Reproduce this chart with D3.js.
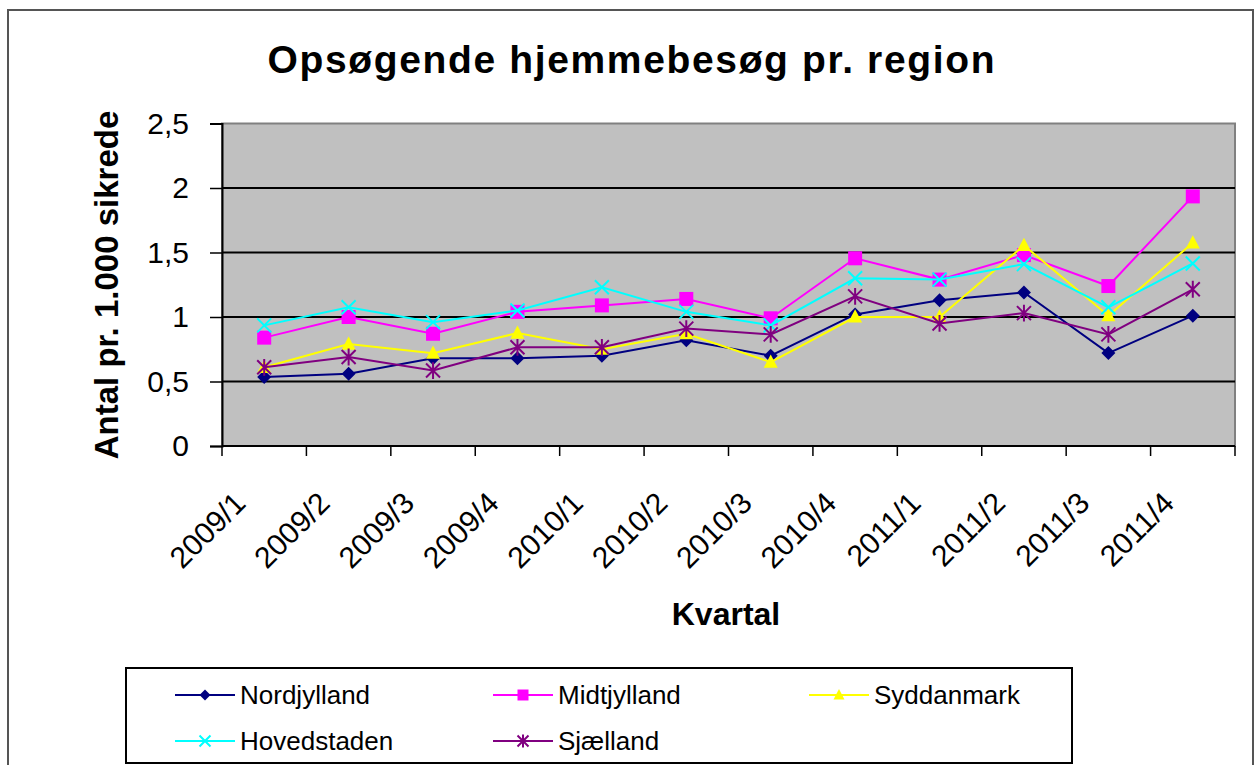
<!DOCTYPE html>
<html>
<head>
<meta charset="utf-8">
<script src="https://cdn.jsdelivr.net/npm/d3@7"></script>
<style>
  body { margin: 0; background: #fff; }
  svg { display: block; font-family: "Liberation Sans", Arial, sans-serif; }
</style>
</head>
<body>
<div id="chart"></div>
<script>
const quarters = ['2009/1', '2009/2', '2009/3', '2009/4', '2010/1', '2010/2', '2010/3', '2010/4', '2011/1', '2011/2', '2011/3', '2011/4'];
const yTicks = [0, 0.5, 1, 1.5, 2, 2.5];

const nordjylland = [0.535, 0.56, 0.68, 0.68, 0.70, 0.82, 0.70, 1.02, 1.13, 1.19, 0.72, 1.01];
const midtjylland = [0.84, 1.0, 0.87, 1.04, 1.09, 1.14, 0.99, 1.455, 1.29, 1.48, 1.24, 1.935];
const syddanmark = [0.61, 0.79, 0.72, 0.875, 0.75, 0.87, 0.65, 1.0, 1.0, 1.555, 1.01, 1.575];
const hovedstaden = [0.935, 1.075, 0.96, 1.05, 1.23, 1.04, 0.935, 1.30, 1.29, 1.41, 1.075, 1.415];
const sjaelland = [0.61, 0.69, 0.585, 0.765, 0.765, 0.91, 0.865, 1.16, 0.95, 1.03, 0.865, 1.215];

const series = [
  { name: 'Nordjylland', values: nordjylland, color: '#000080', marker: 'diamond' },
  { name: 'Midtjylland', values: midtjylland, color: '#ff00ff', marker: 'square' },
  { name: 'Syddanmark', values: syddanmark, color: '#ffff00', marker: 'triangle' },
  { name: 'Hovedstaden', values: hovedstaden, color: '#00ffff', marker: 'cross' },
  { name: 'Sjælland', values: sjaelland, color: '#800080', marker: 'star' }
];

const W = 1254, H = 765;
const plot = { left: 222, top: 123.5, right: 1235, bottom: 446 };

const svg = d3.select('#chart').append('svg')
  .attr('width', W)
  .attr('height', H);

// chart frame
svg.append('rect')
  .attr('x', 8).attr('y', 10)
  .attr('width', 1245).attr('height', 780)
  .attr('fill', '#fff')
  .attr('stroke', '#555')
  .attr('stroke-width', 2);

const x = d3.scaleBand().domain(quarters).range([plot.left, plot.right]);
const y = d3.scaleLinear().domain([0, 2.5]).range([plot.bottom, plot.top]);

// plot background
svg.append('rect')
  .attr('x', plot.left).attr('y', plot.top)
  .attr('width', plot.right - plot.left).attr('height', plot.bottom - plot.top)
  .attr('fill', '#c0c0c0')
  .attr('stroke', '#808080')
  .attr('stroke-width', 2);

// gridlines
svg.append('g')
  .selectAll('line')
  .data(yTicks.filter(d => d > 0 && d < 2.5))
  .enter()
  .append('line')
  .attr('x1', plot.left).attr('x2', plot.right)
  .attr('y1', d => y(d)).attr('y2', d => y(d))
  .attr('stroke', '#000')
  .attr('stroke-width', 2);

const locale = d3.formatLocale({ decimal: ',', thousands: '.', grouping: [3], currency: ['', ' kr'] });

// y axis
const yAxis = svg.append('g')
  .attr('transform', `translate(${plot.left},0)`)
  .call(d3.axisLeft(y).tickValues(yTicks).tickFormat(locale.format('~g')).tickSize(12).tickPadding(21));
yAxis.select('.domain').attr('stroke', '#000').attr('stroke-width', 2);
yAxis.selectAll('.tick line').attr('stroke', '#000').attr('stroke-width', 1.5);
yAxis.selectAll('.tick text')
  .attr('font-size', 30)
  .attr('font-family', '"Liberation Sans", Arial, sans-serif')
  .attr('fill', '#000');

// x axis: ticks at band boundaries, labels rotated
const xAxis = svg.append('g');
xAxis.append('line')
  .attr('x1', plot.left).attr('x2', plot.right)
  .attr('y1', plot.bottom).attr('y2', plot.bottom)
  .attr('stroke', '#000').attr('stroke-width', 2);
xAxis.selectAll('.xtick')
  .data(quarters.map(q => x(q)).concat([x.range()[1]]))
  .enter()
  .append('line')
  .attr('x1', d => d).attr('x2', d => d)
  .attr('y1', plot.bottom).attr('y2', plot.bottom + 10)
  .attr('stroke', '#000').attr('stroke-width', 1.5);
xAxis.selectAll('.xlabel')
  .data(quarters)
  .enter()
  .append('text')
  .text(d => d)
  .attr('transform', d => `translate(${x(d) + x.bandwidth() / 2 - 17},505) rotate(-45)`)
  .attr('text-anchor', 'end')
  .attr('font-size', 30)
  .attr('fill', '#000');

// title and axis titles
svg.append('text')
  .text('Opsøgende hjemmebesøg pr. region')
  .attr('x', 631).attr('y', 73)
  .attr('text-anchor', 'middle')
  .attr('font-size', 39)
  .attr('font-weight', 'bold')
  .attr('textLength', 727)
  .attr('lengthAdjust', 'spacing');

svg.append('text')
  .text('Antal pr. 1.000 sikrede')
  .attr('transform', 'translate(118,285) rotate(-90)')
  .attr('text-anchor', 'middle')
  .attr('font-size', 33)
  .attr('font-weight', 'bold');

svg.append('text')
  .text('Kvartal')
  .attr('x', 726).attr('y', 625)
  .attr('text-anchor', 'middle')
  .attr('font-size', 32)
  .attr('font-weight', 'bold');

// markers
function drawMarker(g, type, color, s) {
  if (type === 'diamond') {
    g.append('path').attr('d', `M0,${-s}L${s},0L0,${s}L${-s},0Z`).attr('fill', color);
  } else if (type === 'square') {
    g.append('rect').attr('x', -s).attr('y', -s).attr('width', 2 * s).attr('height', 2 * s).attr('fill', color);
  } else if (type === 'triangle') {
    g.append('path').attr('d', `M0,${-s * 1.1}L${s},${s * 0.8}L${-s},${s * 0.8}Z`).attr('fill', color);
  } else if (type === 'cross') {
    g.append('path').attr('d', `M${-s},${-s}L${s},${s}M${-s},${s}L${s},${-s}`)
      .attr('stroke', color).attr('stroke-width', 2).attr('fill', 'none');
  } else if (type === 'star') {
    g.append('path').attr('d', `M${-s},${-s}L${s},${s}M${-s},${s}L${s},${-s}M0,${-s * 1.2}L0,${s * 1.2}`)
      .attr('stroke', color).attr('stroke-width', 2).attr('fill', 'none');
  }
}

const line = d3.line()
  .x((d, i) => x(quarters[i]) + x.bandwidth() / 2)
  .y(d => y(d));

series.forEach(s => {
  svg.append('path')
    .datum(s.values)
    .attr('d', line)
    .attr('fill', 'none')
    .attr('stroke', s.color)
    .attr('stroke-width', 2);
  s.values.forEach((v, i) => {
    const g = svg.append('g')
      .attr('transform', `translate(${x(quarters[i]) + x.bandwidth() / 2},${y(v)})`);
    drawMarker(g, s.marker, s.color, 7);
  });
});

// legend
const legend = svg.append('g');
legend.append('rect')
  .attr('x', 126).attr('y', 668)
  .attr('width', 946).attr('height', 95)
  .attr('fill', '#fff')
  .attr('stroke', '#000')
  .attr('stroke-width', 2);

const legendCols = [175, 493, 809];
const legendRows = [695, 741];
series.forEach((s, i) => {
  const lx = legendCols[i % 3];
  const ly = legendRows[Math.floor(i / 3)];
  const g = legend.append('g');
  g.append('line')
    .attr('x1', lx).attr('x2', lx + 60)
    .attr('y1', ly).attr('y2', ly)
    .attr('stroke', s.color).attr('stroke-width', 2);
  const m = g.append('g').attr('transform', `translate(${lx + 30},${ly})`);
  drawMarker(m, s.marker, s.color, 5.5);
  g.append('text')
    .text(s.name)
    .attr('x', lx + 65).attr('y', ly)
    .attr('dominant-baseline', 'central')
    .attr('font-size', 26)
    .attr('fill', '#000');
});
</script>
</body>
</html>
